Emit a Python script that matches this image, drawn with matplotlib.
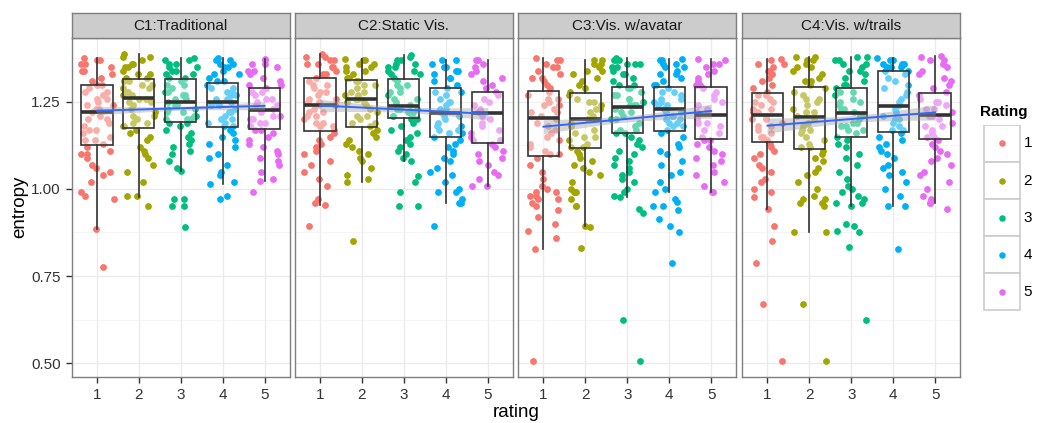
import matplotlib.pyplot as plt
import numpy as np
from matplotlib.patches import Rectangle

plt.rcParams['font.family'] = ['Liberation Sans', 'DejaVu Sans']

# facets and ratings
conditions = ["C1:Traditional", "C2:Static Vis.", "C3:Vis. w/avatar", "C4:Vis. w/trails"]
ratings = [1, 2, 3, 4, 5]
colors = ["#F8766D", "#A3A500", "#00BF7D", "#00B0F6", "#E76BF3"]

# entropy values per condition / rating
c1_r1 = [1.376, 1.37, 1.37, 1.36, 1.36, 1.35, 1.34, 1.34, 1.33, 1.32, 1.31, 1.30, 1.30,
         1.29, 1.28, 1.28, 1.27, 1.26, 1.26, 1.25, 1.24, 1.24, 1.23, 1.23, 1.22,
         1.21, 1.20, 1.20, 1.19, 1.18, 1.17, 1.17, 1.16, 1.15, 1.14, 1.14, 1.13,
         1.12, 1.11, 1.10, 1.10, 1.09, 1.07, 1.06, 1.05, 1.04, 1.02, 0.99, 0.98, 0.97, 0.884, 0.775]
c1_r2 = [1.387, 1.38, 1.38, 1.37, 1.36, 1.36, 1.35, 1.35, 1.34, 1.33, 1.33, 1.32, 1.32,
         1.31, 1.31, 1.30, 1.30, 1.29, 1.29, 1.28, 1.28, 1.27, 1.27, 1.26, 1.26,
         1.25, 1.25, 1.24, 1.23, 1.22, 1.21, 1.21, 1.20, 1.19, 1.19, 1.18, 1.18,
         1.17, 1.16, 1.15, 1.14, 1.12, 1.11, 1.10, 1.09, 1.07, 1.05, 1.02, 0.98, 0.98, 0.95]
c1_r3 = [1.376, 1.37, 1.37, 1.36, 1.36, 1.35, 1.35, 1.34, 1.34, 1.33, 1.33, 1.32, 1.32,
         1.31, 1.30, 1.30, 1.29, 1.28, 1.28, 1.27, 1.27, 1.26, 1.26, 1.25, 1.25,
         1.24, 1.24, 1.23, 1.23, 1.22, 1.22, 1.21, 1.21, 1.20, 1.20, 1.20, 1.19,
         1.19, 1.18, 1.17, 1.16, 1.15, 1.14, 1.13, 1.12, 1.11, 1.10, 1.08, 1.06, 1.052,
         0.97, 0.97, 0.95, 0.95, 0.89]
c1_r4 = [1.376, 1.37, 1.37, 1.36, 1.36, 1.35, 1.35, 1.34, 1.33, 1.33, 1.32, 1.31, 1.31,
         1.30, 1.29, 1.29, 1.28, 1.28, 1.27, 1.27, 1.26, 1.26, 1.25, 1.25,
         1.24, 1.24, 1.23, 1.22, 1.22, 1.21, 1.20, 1.20, 1.19, 1.19, 1.18, 1.18,
         1.17, 1.16, 1.15, 1.14, 1.13, 1.12, 1.10, 1.09, 1.07, 1.05, 1.04, 1.02, 1.015, 0.98, 0.97]
c1_r5 = [1.373, 1.37, 1.36, 1.36, 1.35, 1.34, 1.34, 1.33, 1.32, 1.31, 1.30, 1.30,
         1.29, 1.28, 1.28, 1.27, 1.26, 1.26, 1.25, 1.24, 1.24, 1.23, 1.23,
         1.22, 1.21, 1.21, 1.20, 1.20, 1.19, 1.19, 1.18, 1.18, 1.17, 1.17,
         1.16, 1.15, 1.14, 1.13, 1.12, 1.11, 1.10, 1.09, 1.08, 1.07, 1.05, 1.03, 1.023, 0.99]

c2_r1 = [1.389, 1.38, 1.38, 1.37, 1.37, 1.36, 1.36, 1.35, 1.35, 1.34, 1.33, 1.33, 1.32,
         1.31, 1.30, 1.30, 1.29, 1.28, 1.28, 1.27, 1.26, 1.26, 1.25, 1.25, 1.24,
         1.24, 1.23, 1.22, 1.22, 1.21, 1.21, 1.20, 1.19, 1.19, 1.18, 1.18, 1.17,
         1.16, 1.15, 1.14, 1.13, 1.12, 1.11, 1.10, 1.08, 1.07, 1.05, 1.03, 1.01, 0.97, 0.96, 0.954, 0.893]
c2_r2 = [1.374, 1.37, 1.37, 1.36, 1.36, 1.35, 1.35, 1.34, 1.34, 1.33, 1.32, 1.32, 1.31,
         1.31, 1.30, 1.30, 1.29, 1.28, 1.28, 1.27, 1.27, 1.26, 1.26,
         1.25, 1.25, 1.24, 1.23, 1.22, 1.21, 1.21, 1.20, 1.19, 1.19, 1.18,
         1.17, 1.16, 1.15, 1.14, 1.13, 1.12, 1.11, 1.10, 1.09, 1.08, 1.06, 1.04, 1.03, 1.021, 0.851]
c2_r3 = [1.385, 1.38, 1.37, 1.37, 1.36, 1.36, 1.35, 1.35, 1.34, 1.34, 1.33, 1.33, 1.32,
         1.31, 1.30, 1.30, 1.29, 1.28, 1.28, 1.27, 1.26, 1.26, 1.25, 1.24, 1.24,
         1.23, 1.23, 1.23, 1.22, 1.22, 1.22, 1.21, 1.21, 1.21, 1.20, 1.20,
         1.19, 1.18, 1.17, 1.16, 1.15, 1.14, 1.13, 1.12, 1.11, 1.10, 1.09, 1.08,
         1.038, 1.021, 0.99, 0.952, 0.95]
c2_r4 = [1.371, 1.37, 1.36, 1.35, 1.35, 1.34, 1.34, 1.33, 1.32, 1.32, 1.31, 1.30, 1.29,
         1.28, 1.28, 1.27, 1.26, 1.25, 1.25, 1.24, 1.23, 1.23, 1.22,
         1.21, 1.21, 1.20, 1.19, 1.18, 1.18, 1.17, 1.17, 1.16, 1.16, 1.15,
         1.14, 1.13, 1.12, 1.11, 1.10, 1.09, 1.08, 1.06, 1.05, 1.04, 1.02, 1.00, 0.99, 0.99,
         0.97, 0.96, 0.959, 0.893]
c2_r5 = [1.371, 1.37, 1.36, 1.35, 1.34, 1.33, 1.32, 1.31, 1.30, 1.29,
         1.28, 1.27, 1.26, 1.25, 1.24, 1.23, 1.22, 1.22,
         1.21, 1.20, 1.19, 1.18, 1.17, 1.16, 1.15, 1.14, 1.14,
         1.13, 1.12, 1.11, 1.10, 1.09, 1.08, 1.07, 1.05, 1.04, 1.03, 1.01, 1.009]

c3_r1 = [1.377, 1.37, 1.37, 1.36, 1.35, 1.35, 1.34, 1.33, 1.32, 1.32, 1.31, 1.30, 1.29,
         1.28, 1.27, 1.26, 1.26, 1.25, 1.24, 1.24, 1.23, 1.22, 1.22, 1.21,
         1.20, 1.19, 1.18, 1.17, 1.16, 1.15, 1.14, 1.13, 1.12, 1.11, 1.10, 1.10,
         1.09, 1.07, 1.05, 1.03, 1.01, 1.00, 0.99, 0.99, 0.98, 0.98, 0.97, 0.97, 0.96, 0.95,
         0.94, 0.92, 0.90, 0.88, 0.86, 0.827, 0.505]
c3_r2 = [1.371, 1.37, 1.36, 1.36, 1.35, 1.34, 1.34, 1.33, 1.32, 1.31, 1.30, 1.29, 1.28,
         1.27, 1.26, 1.25, 1.25, 1.24, 1.23, 1.23, 1.22, 1.21, 1.20,
         1.19, 1.18, 1.17, 1.16, 1.15, 1.15, 1.14, 1.13, 1.12, 1.12,
         1.11, 1.10, 1.09, 1.08, 1.07, 1.06, 1.05, 1.04, 1.02, 1.00, 0.99, 0.99, 0.99, 0.97,
         0.95, 0.95, 0.894, 0.89, 0.831]
c3_r3 = [1.376, 1.37, 1.37, 1.37, 1.36, 1.36, 1.36, 1.35, 1.35, 1.34, 1.33, 1.33, 1.32,
         1.31, 1.30, 1.30, 1.29, 1.29, 1.28, 1.27, 1.27, 1.26, 1.26, 1.25, 1.25, 1.24,
         1.24, 1.24, 1.23, 1.22, 1.22, 1.21, 1.20, 1.20, 1.19, 1.18, 1.17, 1.17, 1.16, 1.16,
         1.15, 1.14, 1.13, 1.12, 1.11, 1.10, 1.09, 1.08, 1.07, 1.06, 1.05, 1.04, 1.03, 1.02,
         1.00, 0.99, 0.98, 0.976, 0.942, 0.93, 0.625, 0.505]
c3_r4 = [1.373, 1.37, 1.37, 1.36, 1.36, 1.35, 1.35, 1.34, 1.33, 1.33, 1.32, 1.31, 1.30, 1.30,
         1.29, 1.28, 1.28, 1.27, 1.26, 1.26, 1.25, 1.25, 1.24, 1.24, 1.23,
         1.22, 1.22, 1.21, 1.21, 1.20, 1.20, 1.19, 1.19, 1.18, 1.18, 1.17,
         1.16, 1.15, 1.13, 1.12, 1.11, 1.10, 1.08, 1.07, 1.05, 1.04, 1.02, 1.00, 0.992,
         0.97, 0.964, 0.95, 0.95, 0.94, 0.914, 0.894, 0.876, 0.788]
c3_r5 = [1.373, 1.37, 1.36, 1.36, 1.35, 1.34, 1.33, 1.32, 1.31, 1.30, 1.30,
         1.29, 1.28, 1.27, 1.26, 1.25, 1.24, 1.23, 1.22, 1.22,
         1.21, 1.20, 1.19, 1.19, 1.18, 1.17, 1.16, 1.15, 1.14, 1.14,
         1.13, 1.12, 1.11, 1.10, 1.09, 1.08, 1.07, 1.05, 1.04, 1.02, 1.01, 0.99, 0.99]

c4_r1 = [1.374, 1.37, 1.36, 1.36, 1.35, 1.34, 1.34, 1.33, 1.32, 1.31, 1.30, 1.29, 1.28,
         1.27, 1.27, 1.26, 1.25, 1.25, 1.24, 1.23, 1.23, 1.22, 1.22,
         1.21, 1.20, 1.20, 1.19, 1.18, 1.18, 1.17, 1.16, 1.15, 1.15, 1.14,
         1.13, 1.12, 1.11, 1.10, 1.09, 1.07, 1.06, 1.05, 1.03, 1.02, 1.00, 0.99, 0.978,
         0.942, 0.893, 0.851, 0.788, 0.670, 0.505]
c4_r2 = [1.380, 1.38, 1.37, 1.37, 1.36, 1.35, 1.35, 1.34, 1.33, 1.32, 1.31, 1.31, 1.30,
         1.29, 1.28, 1.27, 1.26, 1.26, 1.25, 1.24, 1.23, 1.22, 1.22, 1.21,
         1.20, 1.19, 1.18, 1.17, 1.17, 1.16, 1.15, 1.14, 1.13, 1.12, 1.12, 1.11,
         1.10, 1.09, 1.08, 1.06, 1.05, 1.04, 1.02, 1.00, 0.98, 0.97, 0.97, 0.96, 0.96, 0.95,
         0.876, 0.876, 0.670, 0.505]
c4_r3 = [1.380, 1.38, 1.37, 1.37, 1.36, 1.36, 1.35, 1.34, 1.34, 1.33, 1.32, 1.31, 1.30, 1.30,
         1.29, 1.28, 1.28, 1.27, 1.26, 1.25, 1.25, 1.24, 1.23, 1.23, 1.22,
         1.21, 1.21, 1.20, 1.19, 1.19, 1.18, 1.18, 1.17, 1.17, 1.16, 1.15,
         1.14, 1.13, 1.12, 1.10, 1.09, 1.07, 1.05, 1.03, 1.01, 1.00, 0.99, 0.98, 0.97, 0.96,
         0.96, 0.952, 0.90, 0.894, 0.88, 0.875, 0.834, 0.625]
c4_r4 = [1.376, 1.37, 1.37, 1.36, 1.36, 1.36, 1.35, 1.35, 1.35, 1.34, 1.34,
         1.33, 1.32, 1.31, 1.30, 1.29, 1.28, 1.27, 1.26, 1.25, 1.24,
         1.23, 1.22, 1.21, 1.20, 1.20, 1.19, 1.18, 1.17, 1.17, 1.16,
         1.15, 1.14, 1.13, 1.12, 1.11, 1.10, 1.09, 1.07, 1.06, 1.05, 1.04, 1.02, 1.00, 0.98,
         0.952, 0.95, 0.827]
c4_r5 = [1.383, 1.38, 1.37, 1.37, 1.36, 1.35, 1.34, 1.33, 1.32, 1.31, 1.30, 1.29, 1.28,
         1.27, 1.26, 1.25, 1.25, 1.24, 1.23, 1.23, 1.22, 1.21,
         1.21, 1.20, 1.19, 1.18, 1.18, 1.17, 1.16, 1.15, 1.15, 1.14,
         1.13, 1.12, 1.11, 1.10, 1.09, 1.08, 1.07, 1.05, 1.04, 1.02, 1.00, 0.98, 0.97, 0.96,
         0.959, 0.942]

points = [[c1_r1, c1_r2, c1_r3, c1_r4, c1_r5],
          [c2_r1, c2_r2, c2_r3, c2_r4, c2_r5],
          [c3_r1, c3_r2, c3_r3, c3_r4, c3_r5],
          [c4_r1, c4_r2, c4_r3, c4_r4, c4_r5]]

# boxplot summaries (per condition, ratings 1..5)
medians = [[1.220, 1.261, 1.251, 1.251, 1.226],
           [1.242, 1.258, 1.239, 1.219, 1.217],
           [1.205, 1.200, 1.237, 1.230, 1.212],
           [1.214, 1.208, 1.219, 1.239, 1.212]]
q1s = [[1.127, 1.174, 1.193, 1.178, 1.171],
       [1.167, 1.178, 1.204, 1.150, 1.133],
       [1.095, 1.117, 1.160, 1.168, 1.143],
       [1.136, 1.114, 1.150, 1.163, 1.144]]
q3s = [[1.298, 1.316, 1.316, 1.305, 1.291],
       [1.319, 1.314, 1.316, 1.289, 1.280],
       [1.282, 1.275, 1.292, 1.292, 1.292],
       [1.275, 1.292, 1.289, 1.340, 1.275]]
whisk_lo = [[0.884, 0.978, 1.052, 1.015, 1.023],
            [0.954, 1.021, 1.080, 0.959, 1.009],
            [0.827, 0.894, 0.976, 0.992, 0.990],
            [0.942, 0.876, 0.952, 0.952, 0.959]]
whisk_hi = [[1.376, 1.387, 1.376, 1.376, 1.373],
            [1.389, 1.374, 1.385, 1.371, 1.371],
            [1.377, 1.371, 1.376, 1.373, 1.373],
            [1.374, 1.380, 1.380, 1.376, 1.383]]

# linear fit: value at rating 1 and 5, confidence half-width at the ends and middle
fit_start = [1.225, 1.240, 1.179, 1.182]
fit_end = [1.239, 1.216, 1.224, 1.220]
band_end = [0.012, 0.018, 0.020, 0.022]
band_mid = [0.006, 0.008, 0.009, 0.010]

W, H = 1038, 423
fig = plt.figure(figsize=(W / 100, H / 100), dpi=100)

panel_x = [71.7, 294.7, 518.3, 742.3]
panel_w = 218.0
panel_top, panel_bot = 38.3, 377.0
strip_top = 12.7

text_col = "#333333"
rng = np.random.default_rng(11)

for i, cond in enumerate(conditions):
    ax = fig.add_axes([panel_x[i] / W, 1 - panel_bot / H, panel_w / W, (panel_bot - panel_top) / H])
    ax.set_xlim(0.4, 5.6)
    ax.set_ylim(0.4598, 1.433)

    # grid
    for y in [0.625, 0.875, 1.125, 1.375]:
        ax.axhline(y, color="#F5F5F5", lw=0.7, zorder=0)
    for y in [0.5, 0.75, 1.0, 1.25]:
        ax.axhline(y, color="#EBEBEB", lw=1.0, zorder=0)
    for x in ratings:
        ax.axvline(x, color="#EBEBEB", lw=1.0, zorder=0)

    # jittered points
    for j, r in enumerate(ratings):
        vals = np.array(points[i][j])
        xs = r + rng.uniform(-0.4, 0.4, len(vals))
        ax.scatter(xs, vals, s=24, color=colors[j], linewidths=0, zorder=2)

    # boxplots
    stats = []
    for j in range(5):
        stats.append({"med": medians[i][j], "q1": q1s[i][j], "q3": q3s[i][j],
                      "whislo": whisk_lo[i][j], "whishi": whisk_hi[i][j], "fliers": []})
    ax.bxp(stats, positions=ratings, widths=0.75, patch_artist=True, showcaps=False,
           showfliers=False, manage_ticks=False,
           boxprops=dict(facecolor=(1, 1, 1, 0.4), edgecolor=text_col, lw=1.2),
           whiskerprops=dict(color=text_col, lw=1.2),
           medianprops=dict(color=text_col, lw=2.6, solid_capstyle="butt"),
           zorder=3)

    # linear fit with confidence band
    xs = np.linspace(1, 5, 80)
    ys = fit_start[i] + (fit_end[i] - fit_start[i]) * (xs - 1) / 4
    half = np.sqrt(band_mid[i] ** 2 + (band_end[i] ** 2 - band_mid[i] ** 2) * ((xs - 3) / 2) ** 2)
    ax.fill_between(xs, ys - half, ys + half, color="#999999", alpha=0.4, lw=0, zorder=4)
    ax.plot(xs, ys, color="#3366FF", lw=1.4, zorder=5)

    # axes styling
    for sp in ax.spines.values():
        sp.set_color("#7F7F7F")
        sp.set_linewidth(1.0)
    ax.set_xticks(ratings)
    ax.set_xticklabels([str(r) for r in ratings])
    ax.set_yticks([0.5, 0.75, 1.0, 1.25])
    ax.tick_params(axis="both", color=text_col, length=4.5, width=1.0, labelsize=11,
                   labelcolor=text_col, pad=3.5)
    if i == 0:
        ax.set_yticklabels(["0.50", "0.75", "1.00", "1.25"])
    else:
        ax.tick_params(axis="y", length=0, labelleft=False)

    # facet strip
    sax = fig.add_axes([panel_x[i] / W, 1 - panel_top / H, panel_w / W, (panel_top - strip_top) / H])
    sax.set_facecolor("#CCCCCC")
    sax.set_xticks([])
    sax.set_yticks([])
    for sp in sax.spines.values():
        sp.set_color("#7F7F7F")
        sp.set_linewidth(1.0)
    sax.text(0.5, 0.47, cond, ha="center", va="center", fontsize=11, color="#1A1A1A",
             transform=sax.transAxes)

# axis titles
fig.text(20 / W, 1 - 207 / H, "entropy", rotation=90, ha="center", va="center",
         fontsize=13.5, color="black")
fig.text(516 / W, 1 - 417 / H, "rating", ha="center", va="baseline",
         fontsize=13.5, color="black")

# legend
fig.text(980 / W, 1 - 112 / H, "Rating", ha="left", va="center", fontsize=11,
         fontweight="bold", color="black")
lax = fig.add_axes([983 / W, 1 - 311 / H, 55 / W, 186 / H])
lax.set_xlim(0, 55)
lax.set_ylim(311, 125)
lax.axis("off")
for j, r in enumerate(ratings):
    top = 125 + j * 37.1
    lax.add_patch(Rectangle((0.5, top), 36.5, 37.1, facecolor="white", edgecolor="#CCCCCC", lw=1.2))
    lax.scatter([18.7], [top + 18.5], s=22, color=colors[j], linewidths=0)
    lax.text(45, top + 18.5, str(r), ha="center", va="center", fontsize=11, color="black")

fig.savefig("out.png", dpi=100)
